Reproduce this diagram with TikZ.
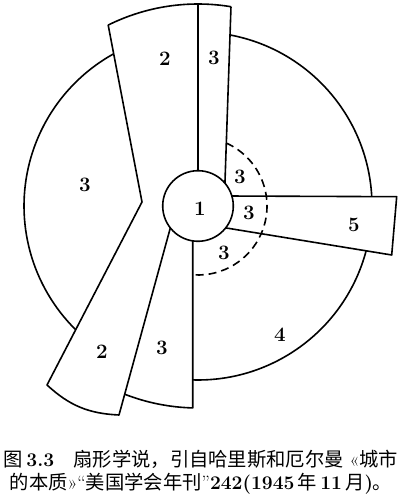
\documentclass[tikz,border=0pt]{standalone}
\usepackage{fontspec}
\newfontfamily\cjk{Noto Sans CJK SC}
\usetikzlibrary{calc}
\tikzset{
  edge/.style={line width=1.6pt, line join=round},
  ring/.style={line width=1.6pt, dash pattern=on 8pt off 5pt},
  zone/.style={font=\fontsize{20.5}{20.5}\selectfont\bfseries, inner sep=0pt},
  capt/.style={font=\fontsize{19.3}{23}\selectfont, align=center, inner sep=0pt},
}

\begin{document}
\begin{tikzpicture}[x=1pt, y=1pt]
  \useasboundingbox (0,0) rectangle (403,500);
  \coordinate (C) at (198,294);
  \coordinate (kink) at (142,298);
  \coordinate (tipL) at (47,115);
  \coordinate (tipR) at (119,85);

  % wedges along the axes
  \draw[edge] ($(C)+(80.6:202)$) arc[start angle=80.6, end angle=116.4, radius=202]
    -- (kink) -- (tipL) to[bend right=20] (tipR) -- (172.5,280);
  \draw[edge] (198,496) -- (198,300);
  \draw[edge] ($(C)+(80.6:202)$) -- (224.7,310);
  \draw[edge] ($(C)+(248.7:202)$) arc[start angle=248.7, end angle=268.5, radius=202]
    -- (192.7,280);
  \draw[edge] (225,304) -- (396.7,303.3) -- (391.7,245) -- (222,272.7);

  % outer ring
  \draw[edge] ($(C)+(79.3:174)$) arc[start angle=79.3, end angle=3.3, radius=174];
  \draw[edge] ($(C)+(-14.9:174)$) arc[start angle=-14.9, end angle=-91.75, radius=174];
  \draw[edge] ($(C)+(225.3:174)$) arc[start angle=225.3, end angle=119.1, radius=174];

  % centre and inner ring
  \draw[edge, fill=white] (C) circle[radius=35.3];
  \draw[ring] ($(C)+(65.8:69)$) arc[start angle=65.8, end angle=-93, radius=69];

  \node[zone] (cbd) at (200,291) {1};
  \node[zone] (wholeN) at (165,441) {2};
  \node[zone] (wholeS) at (102,148) {2};
  \node[zone] (lowN) at (214,442) {3};
  \node[zone] (lowW) at (85,315) {3};
  \node[zone] (lowS) at (162,152) {3};
  \node[zone] (lowA) at (240,323) {3};
  \node[zone] (lowB) at (249,287) {3};
  \node[zone] (lowC) at (224,247) {3};
  \node[zone] (mid) at (280,165) {4};
  \node[zone] (high) at (354,275) {5};

  \node[capt] (cap) at (201,27.5) {{\cjk 图}\,\textbf{3.3}\quad{\cjk 扇形学说，引自哈里斯和厄尔曼} «{\cjk 城市}\\
    {\cjk 的本质}»“{\cjk 美国学会年刊}”\textbf{242(1945}\,{\cjk 年}\,\textbf{11}\,{\cjk 月}\textbf{)}{\cjk 。}};
\end{tikzpicture}
\end{document}
